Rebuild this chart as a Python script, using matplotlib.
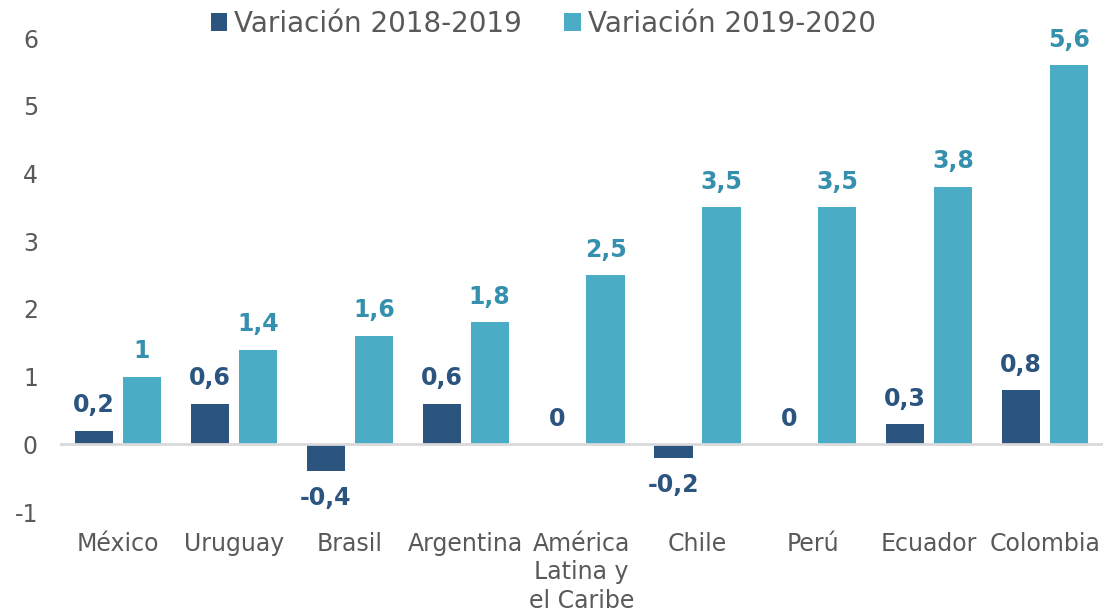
import matplotlib.pyplot as plt
import numpy as np

plt.rcParams["axes.unicode_minus"] = False

categorias = ["México", "Uruguay", "Brasil", "Argentina", "América\nLatina y\nel Caribe",
              "Chile", "Perú", "Ecuador", "Colombia"]
var_2018_2019 = [0.2, 0.6, -0.4, 0.6, 0.0, -0.2, 0.0, 0.3, 0.8]
var_2019_2020 = [1.0, 1.4, 1.6, 1.8, 2.5, 3.5, 3.5, 3.8, 5.6]
serie_nombres = ["Variación 2018-2019", "Variación 2019-2020"]

oscuro = "#2B547E"
claro = "#4BACC6"
texto_claro = "#3590AD"
gris = "#595959"

def etiqueta(v):
    s = ("%.1f" % v).replace(".", ",")
    if s.endswith(",0"):
        s = s[:-2]
    if s == "-0":
        s = "0"
    return s

fig = plt.figure(figsize=(11.13, 6.14), dpi=100)
ax = fig.add_axes([0.054, 0.166, 0.937, 0.772])

x = np.arange(len(categorias))
ancho = 0.33
off = 0.207

b1 = ax.bar(x - off, var_2018_2019, ancho, color=oscuro, label=serie_nombres[0], zorder=2)
b2 = ax.bar(x + off, var_2019_2020, ancho, color=claro, label=serie_nombres[1], zorder=2)

for xi, v in zip(x, var_2018_2019):
    if v < 0:
        ax.text(xi - off, v - 0.22, etiqueta(v), ha="center", va="top",
                fontsize=17, fontweight="bold", color=oscuro)
    else:
        ax.text(xi - off, v + 0.2, etiqueta(v), ha="center", va="bottom",
                fontsize=17, fontweight="bold", color=oscuro)
for xi, v in zip(x, var_2019_2020):
    ax.text(xi + off, v + 0.2, etiqueta(v), ha="center", va="bottom",
            fontsize=17, fontweight="bold", color=texto_claro)

ax.axhline(0, color="#D9D9D9", linewidth=2, zorder=3)
ax.set_xlim(-0.5, len(categorias) - 0.5)
ax.set_ylim(-1, 6)
ax.set_yticks(range(-1, 7))
ax.set_xticks(x)
ax.set_xticklabels(categorias, linespacing=1.25)
ax.tick_params(axis="both", length=0, labelsize=17, colors=gris)
ax.tick_params(axis="x", pad=14)
ax.tick_params(axis="y", pad=16)
for s in ax.spines.values():
    s.set_visible(False)

leg = fig.legend(loc="upper center", bbox_to_anchor=(0.488, 1.025), ncol=2, frameon=False,
                 fontsize=20, handlelength=0.6, handleheight=0.6, handletextpad=0.25,
                 columnspacing=1.5)
for t in leg.get_texts():
    t.set_color(gris)

fig.savefig("out.png", dpi=100)
